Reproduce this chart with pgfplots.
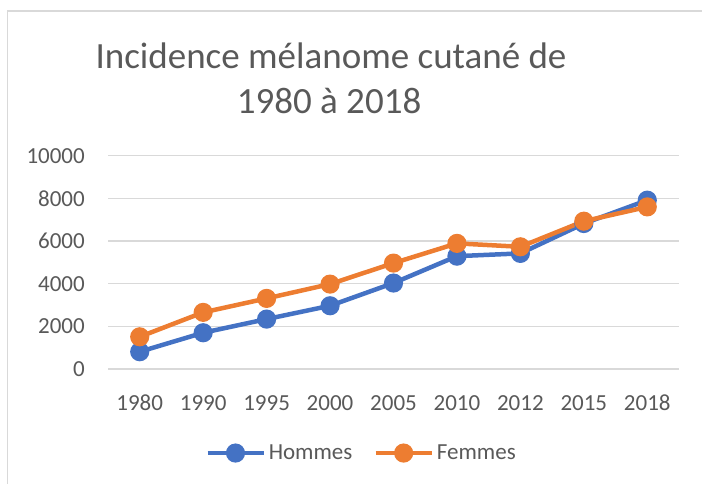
\documentclass[border=0pt]{standalone}
\usepackage{fontspec}
\setmainfont{Carlito}
\usepackage{pgfplots}
\pgfplotsset{compat=1.18}
\definecolor{cblue}{HTML}{4472C4}
\definecolor{corange}{HTML}{ED7D31}
\definecolor{cgrid}{HTML}{D9D9D9}
\definecolor{ctext}{HTML}{595959}
\begin{document}
\begin{tikzpicture}
\useasboundingbox (0,0) rectangle (702bp,-484bp);
\draw[cgrid, line width=1.5bp] (7.5bp,-490bp) -- (7.5bp,-11bp) -- (710bp,-11bp);
\node[anchor=base, text=ctext, font=\fontsize{37bp}{44bp}\selectfont, inner sep=0pt] at (331bp,-68bp) {Incidence mélanome cutané de};
\node[anchor=base, text=ctext, font=\fontsize{37bp}{44bp}\selectfont, inner sep=0pt] at (329bp,-113bp) {1980 à 2018};
\begin{axis}[
  at={(108bp,-369bp)}, anchor=south west,
  scale only axis, width=571bp, height=213.3bp,
  xmin=-0.5, xmax=8.5, ymin=0, ymax=10000,
  xtick={0,...,8},
  xticklabels={1980,1990,1995,2000,2005,2010,2012,2015,2018},
  ytick={0,2000,4000,6000,8000,10000},
  scaled y ticks=false,
  major tick length=0pt,
  axis line style={draw=none},
  ymajorgrids, grid style={cgrid, line width=1.5bp},
  /pgf/number format/assume math mode=true,
  /pgf/number format/set thousands separator={},
  tick label style={text=ctext, font=\fontsize{23bp}{28bp}\selectfont, inner sep=0pt},
  yticklabel style={anchor=east, xshift=-23bp},
  xticklabel style={anchor=north, yshift=-26bp},
  legend columns=2,
  legend style={draw=none, fill=none, at={(rel axis cs:0.170,-0.394)}, anchor=west,
    font=\fontsize{23bp}{28bp}\selectfont, text=ctext, inner sep=0pt,
    nodes={inner sep=3bp},
    /tikz/every even column/.append style={column sep=18bp}},
  legend image code/.code={\draw[mark repeat=2,mark phase=2,#1] plot coordinates {(0bp,0bp) (28bp,0bp) (56bp,0bp)};},
  clip=false,
]
\addplot[cblue, line width=4.5bp, mark=*, mark size=7.3bp, mark options={solid}] coordinates {
(0,810) (1,1700) (2,2340) (3,2965) (4,4030) (5,5290) (6,5420) (7,6820) (8,7915)};
\addlegendentry{Hommes}
\addplot[corange, line width=4.5bp, mark=*, mark size=7.3bp, mark options={solid}] coordinates {
(0,1510) (1,2655) (2,3310) (3,3980) (4,4965) (5,5890) (6,5730) (7,6930) (8,7600)};
\addlegendentry{Femmes}
\end{axis}
\end{tikzpicture}
\end{document}
